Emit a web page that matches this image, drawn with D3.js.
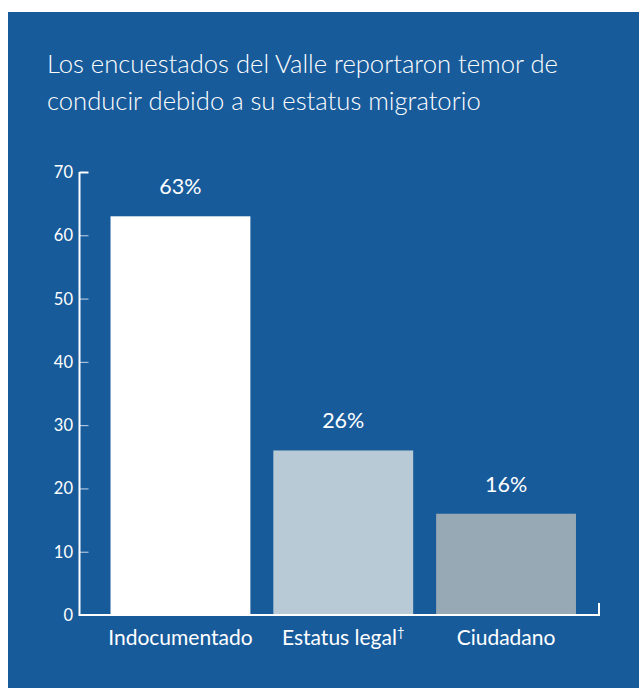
<!DOCTYPE html>
<html><head><meta charset="utf-8">
<script src="https://cdn.jsdelivr.net/npm/d3@7"></script>
<style>html,body{margin:0;padding:0;background:#fff;}svg{display:block;}</style>
</head><body>
<script>
const categories = ["Indocumentado", "Estatus legal", "Ciudadano"];
const values = [63, 26, 16];
const valueLabels = ["63%", "26%", "16%"];
const superscripts = ["", "†", ""];
const barColors = ["#ffffff", "#b7cad5", "#97a9b4"];
const yTicks = [0, 10, 20, 30, 40, 50, 60, 70];
const titleLines = ["Los encuestados del Valle reportaron temor de", "conducir debido a su estatus migratorio"];

const W = 639, H = 688;
const svg = d3.select("body").append("svg").attr("width", W).attr("height", H);
svg.append("rect").attr("x", 8).attr("y", 12).attr("width", W - 8).attr("height", H - 12).attr("fill", "#185b9b");

const font = "Lato, 'Open Sans', sans-serif";
svg.append("g").selectAll("text").data(titleLines).join("text")
  .attr("x", 47).attr("y", (d, i) => 73 + i * 37)
  .attr("fill", "#fff").attr("font-family", font).attr("font-size", 25.6).attr("font-weight", 300)
  .text(d => d);

const x0 = 79.5, x1 = 599, y0 = 615, yTop = 172;
const y = d3.scaleLinear().domain([0, 70]).range([y0, yTop]);
const x = d3.scaleBand().domain(categories).range([x0, x1]).paddingInner(0.141).paddingOuter(0.166).align(0.574);

// bars
svg.append("g").selectAll("rect").data(values).join("rect")
  .attr("x", (d, i) => x(categories[i])).attr("width", x.bandwidth())
  .attr("y", d => y(d)).attr("height", d => y(0) - y(d))
  .attr("fill", (d, i) => barColors[i]);

// value labels
svg.append("g").selectAll("text").data(values).join("text")
  .attr("x", (d, i) => x(categories[i]) + x.bandwidth() / 2)
  .attr("y", d => y(d) - 22)
  .attr("text-anchor", "middle").attr("fill", "#fff")
  .attr("font-family", font).attr("font-size", 21.5)
  .text((d, i) => valueLabels[i]);

// y axis
const yAxis = d3.axisRight(y).tickValues(yTicks).tickSize(9).tickFormat("");
const gy = svg.append("g").attr("transform", `translate(${x0},0)`).call(yAxis);
gy.select(".domain").remove();
gy.selectAll(".tick line").attr("stroke", "#fff").attr("stroke-width", 1).attr("stroke-opacity", 0.75);
gy.selectAll(".tick").filter(d => d === 70).select("line").attr("stroke-width", 2).attr("stroke-opacity", 1);
gy.selectAll(".tick").filter(d => d === 0).select("line").remove();
svg.append("g").selectAll("text").data(yTicks).join("text")
  .attr("x", 73).attr("y", d => y(d)).attr("dy", "0.36em")
  .attr("text-anchor", "end").attr("fill", "#fff")
  .attr("font-family", font).attr("font-size", 16.5)
  .text(d => d);

// axis lines
svg.append("path")
  .attr("d", `M${x0},${yTop}V${y0}H${x1}V${y0 - 12}`)
  .attr("fill", "none").attr("stroke", "#fff").attr("stroke-width", 2);

// category labels
const cl = svg.append("g").selectAll("text").data(categories).join("text")
  .attr("x", d => x(d) + x.bandwidth() / 2)
  .attr("y", 645)
  .attr("text-anchor", "middle").attr("fill", "#fff")
  .attr("font-family", font).attr("font-size", 21).attr("font-weight", 400);
cl.append("tspan").text(d => d);
cl.append("tspan").attr("font-size", 13).attr("dy", -8).text((d, i) => superscripts[i]);
</script>
</body></html>
